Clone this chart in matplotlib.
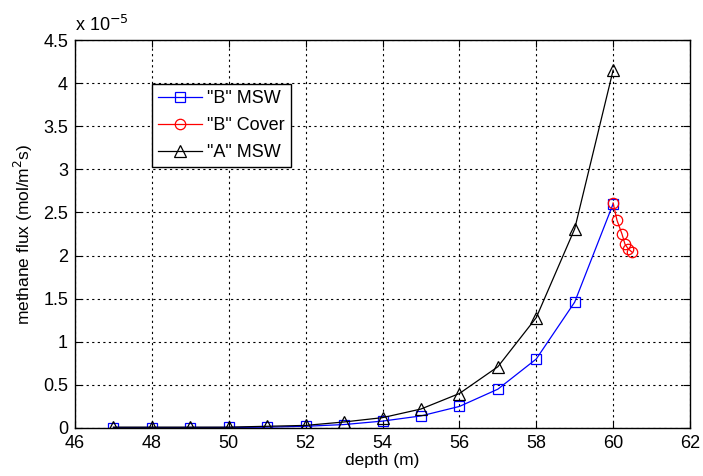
import matplotlib.pyplot as plt

plt.rcParams['font.family'] = ['Liberation Sans', 'DejaVu Sans']

# depth (m)
depth_msw = [47, 48, 49, 50, 51, 52, 53, 54, 55, 56, 57, 58, 59, 60]
depth_cover = [60.0, 60.1, 60.23, 60.31, 60.39, 60.49]

# methane flux, units of 1e-5 mol/m^2/s
flux_b_msw = [0.005, 0.005, 0.005, 0.006, 0.01, 0.02, 0.04, 0.08, 0.14, 0.25, 0.45, 0.80, 1.46, 2.60]
flux_b_cover = [2.61, 2.41, 2.25, 2.13, 2.08, 2.04]
flux_a_msw = [0.01, 0.01, 0.01, 0.01, 0.02, 0.03, 0.07, 0.12, 0.22, 0.40, 0.71, 1.28, 2.31, 4.15]

fig = plt.figure(figsize=(7.03, 4.76), dpi=100)
ax = fig.add_axes([75 / 703, 48 / 476, 615 / 703, 388 / 476])

ax.plot(depth_msw, flux_b_msw, color='blue', lw=0.9, marker='s', ms=6.5,
        mfc='none', mec='blue', mew=0.9, label='"B" MSW')
ax.plot(depth_cover, flux_b_cover, color='red', lw=0.9, marker='o', ms=7.5,
        mfc='none', mec='red', mew=0.9, label='"B" Cover')
ax.plot(depth_msw, flux_a_msw, color='black', lw=0.9, marker='^', ms=8.5,
        mfc='none', mec='black', mew=0.9, label='"A" MSW')

ax.set_xlim(46, 62)
ax.set_ylim(0, 4.5)
ax.set_xticks(range(46, 63, 2))
ax.set_yticks([0, 0.5, 1, 1.5, 2, 2.5, 3, 3.5, 4, 4.5])
ax.set_yticklabels(['0', '0.5', '1', '1.5', '2', '2.5', '3', '3.5', '4', '4.5'])
ax.grid(True, color='black', linestyle=(0, (2, 3)), linewidth=0.8)
ax.tick_params(direction='in', labelsize=13, top=True, right=True, length=5, pad=5)
for s in ax.spines.values():
    s.set_linewidth(1.0)

ax.set_xlabel('depth (m)', fontsize=12.5, labelpad=1)
ax.set_ylabel('methane flux (mol/m$^2$s)', fontsize=12.5, labelpad=6)
ax.text(0.0, 1.012, r'x 10$^{-5}$', transform=ax.transAxes, fontsize=13,
        ha='left', va='bottom')

leg = ax.legend(loc='upper left', bbox_to_anchor=(0.125, 0.887), fontsize=13,
                fancybox=False, framealpha=1, edgecolor='black',
                handlelength=2.4, borderpad=0.35, labelspacing=0.55,
                handletextpad=0.3, borderaxespad=0)
leg.get_frame().set_linewidth(1.0)

fig.savefig('out.png', dpi=100)
